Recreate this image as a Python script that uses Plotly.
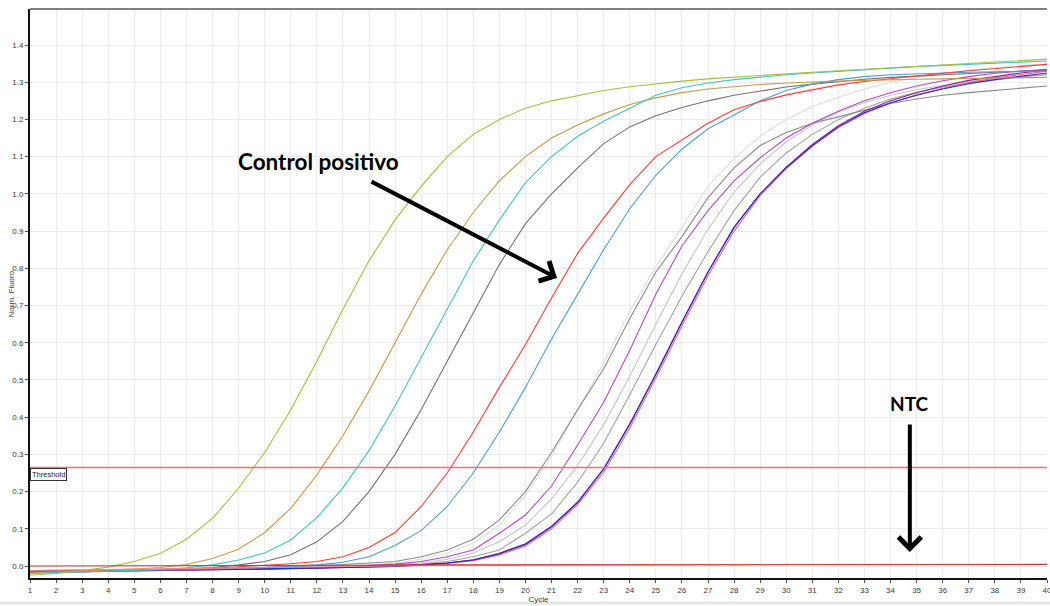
import plotly.graph_objects as go

# Amplification cycles
cycles = list(range(1, 41))

# Normalised fluorescence per cycle for each well
yellow_green = [-0.025, -0.02, -0.012, -0.003, 0.012, 0.034, 0.072, 0.128, 0.209, 0.305,
                0.42, 0.55, 0.69, 0.82, 0.93, 1.02, 1.10, 1.16, 1.20, 1.23,
                1.25, 1.265, 1.278, 1.288, 1.296, 1.303, 1.309, 1.314, 1.319, 1.323,
                1.327, 1.331, 1.335, 1.339, 1.343, 1.347, 1.351, 1.355, 1.359, 1.362]
tan = [-0.018, -0.016, -0.014, -0.011, -0.008, -0.004, 0.004, 0.02, 0.045, 0.09,
       0.155, 0.245, 0.35, 0.47, 0.60, 0.73, 0.85, 0.95, 1.035, 1.10,
       1.15, 1.185, 1.215, 1.24, 1.258, 1.272, 1.282, 1.289, 1.294, 1.298,
       1.301, 1.303, 1.305, 1.307, 1.308, 1.309, 1.31, 1.311, 1.312, 1.313]
cyan = [-0.02, -0.018, -0.016, -0.014, -0.012, -0.009, -0.005, 0.003, 0.016, 0.035,
        0.07, 0.13, 0.21, 0.31, 0.43, 0.56, 0.69, 0.82, 0.93, 1.03,
        1.10, 1.155, 1.195, 1.23, 1.265, 1.285, 1.298, 1.307, 1.314, 1.32,
        1.325, 1.33, 1.334, 1.338, 1.342, 1.345, 1.348, 1.351, 1.354, 1.357]
dark_grey = [-0.018, -0.017, -0.016, -0.015, -0.013, -0.011, -0.008, -0.004, 0.003, 0.012,
             0.03, 0.065, 0.12, 0.2, 0.3, 0.42, 0.55, 0.68, 0.81, 0.92,
             1.0, 1.07, 1.135, 1.18, 1.21, 1.232, 1.25, 1.265, 1.277, 1.287,
             1.295, 1.302, 1.308, 1.313, 1.317, 1.321, 1.324, 1.327, 1.33, 1.332]
control_red = [-0.015, -0.014, -0.013, -0.012, -0.011, -0.01, -0.008, -0.006, -0.003, 0.002,
               0.006, 0.012, 0.025, 0.05, 0.09, 0.16, 0.25, 0.36, 0.48, 0.595,
               0.72, 0.84, 0.935, 1.025, 1.10, 1.145, 1.19, 1.226, 1.248, 1.266,
               1.28, 1.293, 1.302, 1.31, 1.317, 1.324, 1.331, 1.337, 1.343, 1.348]
steel_blue = [-0.016, -0.015, -0.014, -0.013, -0.012, -0.011, -0.01, -0.008, -0.006, -0.004,
              -0.001, 0.003, 0.01, 0.025, 0.055, 0.095, 0.16, 0.25, 0.36, 0.48,
              0.61, 0.73, 0.85, 0.96, 1.05, 1.12, 1.175, 1.212, 1.25, 1.278,
              1.295, 1.307, 1.315, 1.32, 1.323, 1.325, 1.327, 1.328, 1.329, 1.33]
pale_grey = [-0.014, -0.013, -0.012, -0.011, -0.01, -0.009, -0.008, -0.007, -0.006, -0.005,
             -0.004, -0.002, 0.0, 0.003, 0.008, 0.018, 0.035, 0.062, 0.11, 0.19,
             0.295, 0.42, 0.545, 0.685, 0.805, 0.91, 1.02, 1.095, 1.155, 1.2,
             1.235, 1.26, 1.282, 1.3, 1.313, 1.324, 1.333, 1.34, 1.345, 1.35]
mid_grey = [-0.016, -0.015, -0.014, -0.013, -0.012, -0.011, -0.01, -0.008, -0.006, -0.004,
            -0.002, 0.001, 0.004, 0.008, 0.012, 0.025, 0.043, 0.072, 0.124, 0.2,
            0.305, 0.42, 0.53, 0.665, 0.79, 0.885, 0.99, 1.07, 1.13, 1.165,
            1.19, 1.207, 1.225, 1.243, 1.255, 1.265, 1.272, 1.278, 1.284, 1.29]
magenta = [-0.018, -0.017, -0.016, -0.015, -0.014, -0.013, -0.012, -0.011, -0.01, -0.009,
           -0.007, -0.005, -0.002, 0.001, 0.005, 0.012, 0.025, 0.043, 0.088, 0.137,
           0.215, 0.325, 0.44, 0.58, 0.73, 0.86, 0.955, 1.035, 1.097, 1.15,
           1.19, 1.222, 1.25, 1.272, 1.29, 1.304, 1.315, 1.324, 1.33, 1.335]
silver = [-0.016, -0.015, -0.014, -0.013, -0.012, -0.011, -0.01, -0.009, -0.008, -0.007,
          -0.006, -0.004, -0.002, 0.001, 0.004, 0.008, 0.018, 0.035, 0.065, 0.11,
          0.18, 0.27, 0.38, 0.51, 0.65, 0.785, 0.905, 1.005, 1.08, 1.14,
          1.185, 1.22, 1.245, 1.265, 1.28, 1.292, 1.302, 1.31, 1.316, 1.32]
grey = [-0.017, -0.016, -0.015, -0.014, -0.013, -0.012, -0.011, -0.01, -0.009, -0.008,
        -0.007, -0.005, -0.003, -0.001, 0.002, 0.005, 0.012, 0.025, 0.043, 0.088,
        0.14, 0.225, 0.33, 0.46, 0.595, 0.725, 0.845, 0.955, 1.045, 1.11,
        1.16, 1.2, 1.23, 1.255, 1.273, 1.287, 1.298, 1.307, 1.314, 1.32]
navy = [-0.012, -0.012, -0.012, -0.012, -0.011, -0.011, -0.01, -0.01, -0.009, -0.008,
        -0.007, -0.006, -0.005, -0.003, -0.001, 0.003, 0.008, 0.016, 0.033, 0.058,
        0.105, 0.17, 0.26, 0.38, 0.515, 0.655, 0.79, 0.91, 1.0, 1.07,
        1.13, 1.18, 1.218, 1.245, 1.265, 1.282, 1.296, 1.307, 1.317, 1.325]
rose = [-0.014, -0.014, -0.013, -0.013, -0.012, -0.012, -0.011, -0.01, -0.009, -0.008,
        -0.007, -0.006, -0.005, -0.003, -0.001, 0.002, 0.007, 0.014, 0.03, 0.054,
        0.1, 0.165, 0.252, 0.37, 0.505, 0.645, 0.78, 0.9, 0.995, 1.068,
        1.128, 1.178, 1.216, 1.244, 1.266, 1.284, 1.299, 1.311, 1.321, 1.33]
violet = [-0.013, -0.013, -0.012, -0.012, -0.011, -0.011, -0.01, -0.01, -0.009, -0.008,
          -0.007, -0.006, -0.004, -0.002, 0.0, 0.003, 0.008, 0.017, 0.034, 0.06,
          0.107, 0.172, 0.262, 0.382, 0.515, 0.655, 0.79, 0.91, 1.0, 1.072,
          1.133, 1.183, 1.222, 1.25, 1.272, 1.29, 1.305, 1.316, 1.325, 1.333]
ntc_a = [0.0, 0.0, 0.0, 0.0, 0.001, 0.001, 0.001, 0.001, 0.001, 0.002,
         0.002, 0.002, 0.002, 0.002, 0.003, 0.003, 0.003, 0.003, 0.003, 0.003,
         0.003, 0.003, 0.003, 0.004, 0.004, 0.004, 0.004, 0.004, 0.004, 0.004,
         0.004, 0.004, 0.004, 0.004, 0.004, 0.004, 0.004, 0.004, 0.004, 0.004]
ntc_b = [-0.012, -0.011, -0.01, -0.009, -0.008, -0.007, -0.006, -0.005, -0.004, -0.003,
         -0.002, -0.001, 0.0, 0.001, 0.001, 0.002, 0.002, 0.002, 0.003, 0.003,
         0.003, 0.003, 0.003, 0.004, 0.004, 0.004, 0.004, 0.004, 0.004, 0.004,
         0.004, 0.004, 0.004, 0.004, 0.004, 0.004, 0.005, 0.005, 0.005, 0.005]

threshold = 0.265

y_ticks = [round(0.1 * i, 1) for i in range(15)]

series = [
    (pale_grey, "#dedede"),
    (silver, "#c6c6c6"),
    (grey, "#a3a3a3"),
    (mid_grey, "#8a8a8a"),
    (dark_grey, "#727272"),
    (magenta, "#b447c6"),
    (rose, "#e8647e"),
    (violet, "#7a22a2"),
    (navy, "#2c2cc0"),
    (steel_blue, "#4a9fd2"),
    (control_red, "#ff3838"),
    (tan, "#c89a48"),
    (cyan, "#3ec6be"),
    (yellow_green, "#a9be3c"),
    (ntc_b, "#ee8a8a"),
    (ntc_a, "#c43a3a"),
]

fig = go.Figure()
for values, colour in series:
    fig.add_trace(go.Scatter(x=cycles, y=values, mode="lines",
                             line=dict(color=colour, width=1.1),
                             hoverinfo="skip", showlegend=False))

# Threshold line across all cycles
fig.add_trace(go.Scatter(x=[cycles[0], cycles[-1]], y=[threshold, threshold],
                         mode="lines", line=dict(color="#ff6e6e", width=1.5),
                         hoverinfo="skip", showlegend=False))

tick_font = dict(family="Liberation Sans, Arial, sans-serif", size=8, color="#3a3a3a")

fig.update_layout(
    width=1050, height=606,
    margin=dict(l=30, r=3, t=9, b=28, autoexpand=False),
    paper_bgcolor="white", plot_bgcolor="white",
    xaxis=dict(range=[1, 40], tickmode="array", tickvals=cycles,
               ticktext=[str(c) for c in cycles], ticklabeloverflow="allow",
               automargin=False,
               showgrid=True, gridcolor="#ebebeb", gridwidth=1, zeroline=False,
               showline=True, linecolor="#111111", linewidth=2,
               ticks="outside", ticklen=3, tickcolor="#555555",
               tickfont=tick_font,
               title=dict(text="Cycle", font=tick_font, standoff=0)),
    yaxis=dict(range=[-0.0322, 1.4968], tickmode="array", tickvals=y_ticks,
               ticktext=[f"{v:.1f}" for v in y_ticks], automargin=False,
               showgrid=True, gridcolor="#ebebeb", gridwidth=1, zeroline=False,
               showline=True, linecolor="#111111", linewidth=2,
               ticks="outside", ticklen=3, tickcolor="#555555",
               tickfont=tick_font),
    showlegend=False,
)

# Y axis title sits close to the tick labels
fig.add_annotation(x=0, xref="paper", y=0.5, yref="paper", xshift=-19,
                   xanchor="center", yanchor="middle",
                   text="Norm. Fluoro.", textangle=-90, showarrow=False,
                   font=tick_font)

# Frame line along the top and the strip below the axis
fig.add_shape(type="line", xref="paper", yref="paper", x0=0, x1=1, y0=1, y1=1,
              line=dict(color="#555555", width=1.5))
fig.add_shape(type="line", xref="paper", yref="paper", x0=-0.03, x1=1.003,
              y0=-0.044, y1=-0.044, line=dict(color="#e4e4e4", width=3))

# Threshold label box
fig.add_annotation(x=0, xref="paper", y=threshold, yref="y", xanchor="left", yanchor="top",
                   text="Threshold", showarrow=False, yshift=-1,
                   font=dict(family="Liberation Sans Narrow, Liberation Sans, Arial, sans-serif",
                             size=7.5, color="#222222"),
                   bgcolor="white", bordercolor="#333333", borderwidth=1, borderpad=1)

label_font = dict(family="Lato, Open Sans, sans-serif", size=22.5, color="black", weight="bold")
ntc_font = dict(family="Lato, Open Sans, sans-serif", size=19, color="black", weight="bold")

fig.add_annotation(x=12.08, y=1.088, text="Control positivo", showarrow=False,
                   font=label_font)
fig.add_annotation(x=21.21, y=0.774, ax=14.04, ay=1.035, axref="x", ayref="y",
                   text="", showarrow=True, arrowhead=4, arrowsize=1.1,
                   arrowwidth=4, arrowcolor="black", standoff=0)

fig.add_annotation(x=34.74, y=0.438, text="NTC", showarrow=False, font=ntc_font)
fig.add_annotation(x=34.74, y=0.0376, ax=34.74, ay=0.384, axref="x", ayref="y",
                   text="", showarrow=True, arrowhead=4, arrowsize=1.1,
                   arrowwidth=4, arrowcolor="black", standoff=0)

fig.write_html("out.html")
